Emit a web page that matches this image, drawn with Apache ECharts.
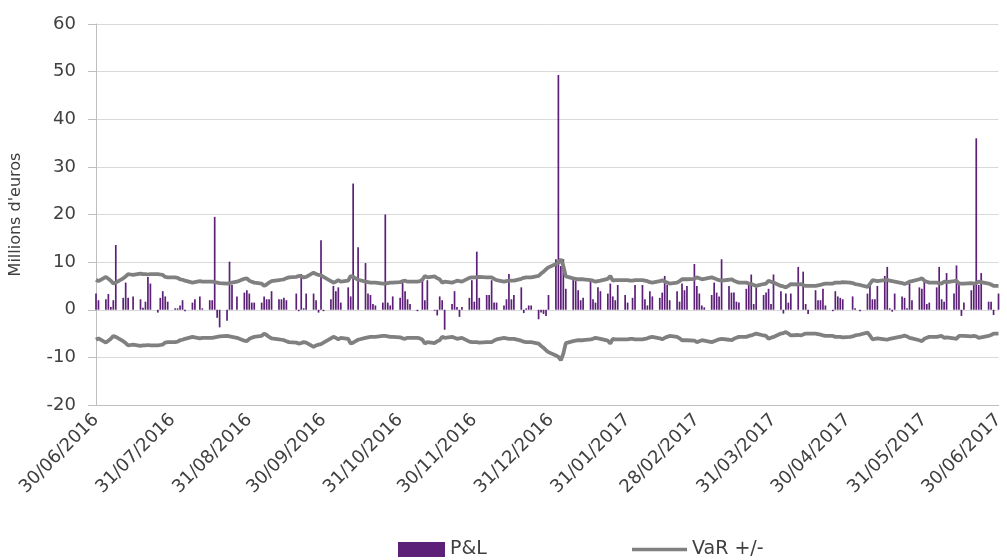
<!DOCTYPE html>
<html>
<head>
<meta charset="utf-8">
<script src="https://cdn.jsdelivr.net/npm/echarts@6/dist/echarts.min.js"></script>
<style>
  html, body { margin: 0; padding: 0; background: #fff; }
  #chart { width: 1007px; height: 560px; }
</style>
</head>
<body>
<div id="chart"></div>
<script>
// month-end labels on the x axis
const tickLabels = ['30/06/2016', '31/07/2016', '31/08/2016', '30/09/2016', '31/10/2016', '30/11/2016',
  '31/12/2016', '31/01/2017', '28/02/2017', '31/03/2017', '30/04/2017', '31/05/2017', '30/06/2017'];

// daily P&L (Mio EUR), one row per week Mon..Fri, from Thu 30/06/2016
const pnl2016 = [
  3.4, 2.0,
  2.2, 3.3, 0.6, 2.0, 13.6,
  2.5, 5.7, 2.5, null, 2.8,
  2.2, 0.4, 1.7, 6.9, 5.5,
  -0.6, 2.5, 3.9, 2.8, 1.7,
  0.3, 0.3, 0.9, 2.0, -0.3,
  1.5, 2.2, null, 2.8, 0.3,
  2.0, 2.0, 19.5, -1.7, -3.7,
  -2.3, 10.1, 5.2, null, 2.8,
  3.6, 4.1, 3.4, 1.5, 1.5,
  1.5, 2.8, 2.2, 2.2, 3.9,
  2.2, 2.2, 2.5, 2.0, null,
  3.4, -0.3, 7.5, 0.3, 3.4,
  3.4, 2.0, -0.6, 14.6, -0.3,
  2.2, 5.0, 3.9, 4.7, 1.5,
  4.7, 2.8, 26.5, null, 13.1,
  9.8, 3.4, 3.1, 1.2, 0.9,
  1.5, 20.0, 1.5, 0.9, 2.8,
  2.5, 5.7, 3.9, 2.2, 1.2,
  -0.3, null, 6.1, 2.0, 6.2,
  -0.2, -1.2, 2.8, 2.0, -4.2,
  1.2, 3.9, 0.6, -1.5, 0.6,
  2.5, 6.2, 1.7, 12.2, 2.5,
  3.1, 3.1, 6.2, 1.5, 1.5,
  0.9, 2.2, 7.5, 2.2, 3.1,
  4.7, -0.7, 0.3, 0.9, 0.9,
  -2.0, -0.6, -0.9, -1.3, 3.1
];
const pnl2017 = [
  10.6, 49.3, 9.2, 10.6, 4.4,
  6.4, 6.1, 4.1, 2.0, 2.5,
  6.1, 2.2, 1.5, 4.7, 3.9,
  3.4, 5.5, 2.8, 2.0, 5.2,
  3.1, 1.5, null, 2.5, 5.2,
  5.2, 2.2, 0.9, 3.9, 2.8,
  2.5, 3.6, 7.1, 5.2, 2.0,
  3.9, 1.7, 5.5, 4.1, 5.0,
  9.6, 5.0, 3.4, 0.9, 0.5,
  3.1, 5.7, 3.6, 2.8, 10.6,
  5.0, 3.6, 3.6, 1.7, 1.5,
  4.4, 5.2, 7.4, 1.2, 4.7,
  3.1, 3.6, 4.4, 1.2, 7.4,
  3.9, -0.8, 3.4, 1.5, 3.4,
  9.0, null, 8.0, 1.2, -0.9,
  4.1, 2.0, 2.0, 4.4, 0.9,
  -0.3, 3.9, 2.8, 2.5, 2.2,
  null, 2.8, 0.3, null, -0.3,
  3.4, 5.5, 2.2, 2.2, 5.0,
  7.1, 9.0, 0.3, -0.4, 3.4,
  2.8, 2.5, 0.3, 5.5, 2.0,
  4.7, 4.4, 6.1, 1.2, 1.5,
  4.7, 9.0, 2.2, 1.7, 7.7,
  3.4, 9.3, 5.2, -1.3, 1.5,
  4.1, 5.2, 36.0, 5.2, 7.7,
  1.7, 1.7, -1.1, null, 3.4
];

// VaR (drawn as +VaR and -VaR), same days
const var2016 = [
  6.3, 6.0,
  6.9, 6.5, 6.1, 5.5, 5.7,
  6.6, 7.0, 7.5, 7.4, 7.3,
  7.6, 7.5, 7.5, 7.4, 7.5,
  7.5, 7.4, 7.3, 6.9, 6.8,
  6.8, 6.7, 6.4, 6.3, 6.1,
  5.7, 5.8, 5.9, 6.0, 5.9,
  5.9, 5.9, 5.8, 5.7, 5.6,
  5.5, 5.6, 5.7, 5.8, 5.9,
  6.5, 6.6, 6.1, 5.9, 5.7,
  5.5, 5.0, 5.3, 5.7, 6.0,
  6.2, 6.3, 6.4, 6.6, 6.8,
  6.9, 7.1, 7.0, 6.8, 6.9,
  7.8, 7.5, 7.3, 7.2, 6.9,
  6.0, 5.7, 5.9, 6.2, 5.9,
  6.1, 7.1, 6.9, 6.6, 6.3,
  5.9, 5.8, 5.7, 5.7, 5.7,
  5.5, 5.5, 5.6, 5.7, 5.7,
  5.8, 6.0, 6.1, 5.9, 5.9,
  5.9, 6.0, 6.3, 7.1, 6.8,
  7.0, 6.6, 6.4, 5.7, 5.9,
  5.7, 5.9, 6.1, 6.0, 5.9,
  6.7, 6.8, 6.8, 6.8, 6.9,
  6.8, 6.8, 6.8, 6.5, 6.2,
  5.9, 6.0, 6.1, 6.1, 6.1,
  6.5, 6.7, 6.8, 6.8, 6.8,
  7.1, 7.6, 8.0, 8.5, 8.9
];
const var2017 = [
  9.6, 9.9, 10.6, 9.2, 7.0,
  6.6, 6.5, 6.4, 6.4, 6.4,
  6.2, 6.1, 5.9, 6.0, 6.1,
  6.5, 7.1, 6.1, 6.2, 6.2,
  6.2, 6.2, 6.1, 6.1, 6.2,
  6.2, 6.1, 6.0, 5.8, 5.7,
  6.0, 6.2, 5.9, 5.7, 5.5,
  5.7, 6.0, 6.4, 6.4, 6.4,
  6.5, 6.8, 6.6, 6.4, 6.5,
  6.8, 6.6, 6.4, 6.2, 6.1,
  6.3, 6.4, 6.1, 5.9, 5.7,
  5.7, 5.5, 5.4, 5.2, 5.0,
  5.4, 5.5, 6.1, 5.9, 5.7,
  5.0, 4.9, 4.7, 5.0, 5.4,
  5.3, 5.4, 5.2, 5.0, 5.0,
  5.0, 5.1, 5.2, 5.4, 5.5,
  5.5, 5.7, 5.7, 5.7, 5.8,
  5.7, 5.6, 5.4, 5.3, 5.2,
  4.8, 5.4, 6.2, 6.1, 6.0,
  6.2, 6.3, 6.1, 6.0, 5.9,
  5.6, 5.4, 5.6, 5.9, 6.0,
  6.4, 6.6, 6.1, 5.9, 5.7,
  5.7, 5.6, 5.5, 5.9, 5.8,
  6.0, 6.1, 5.5, 5.5, 5.5,
  5.6, 5.5, 5.6, 5.9, 5.8,
  5.5, 5.3, 5.0, 5.0, 5.0
];

function parseDate(s) {
  const p = s.split('/');
  return new Date(+p[2], +p[1] - 1, +p[0]).getTime();
}
function fmtDate(t) {
  const d = new Date(t);
  const pad = n => (n < 10 ? '0' : '') + n;
  return pad(d.getDate()) + '/' + pad(d.getMonth() + 1) + '/' + d.getFullYear();
}

// weekdays between first and last label
const tickValues = tickLabels.map(parseDate);
const days = [];
for (let t = new Date(tickValues[0]); t.getTime() <= tickValues[tickValues.length - 1]; t.setDate(t.getDate() + 1)) {
  if (t.getDay() !== 0 && t.getDay() !== 6) days.push(t.getTime());
}
const pnl = pnl2016.concat(pnl2017);
const varVals = var2016.concat(var2017);

const font = 'DejaVu Sans';
const textColor = '#404040';
const legendText = { fontFamily: font, fontSize: 19, color: textColor };

const chart = echarts.init(document.getElementById('chart'));
chart.setOption({
  animation: false,
  grid: { left: 95, right: 4, top: 24, bottom: 155 },
  legend: [
    {
      left: 393,
      top: 535,
      itemWidth: 47,
      itemHeight: 15,
      itemTextGap: 10,
      textStyle: legendText,
      data: [{ name: 'P&L', icon: 'rect' }]
    },
    {
      left: 627,
      top: 535,
      itemWidth: 55,
      itemHeight: 3.5,
      itemTextGap: 2,
      textStyle: legendText,
      data: [{ name: 'VaR +/-', icon: 'rect' }]
    }
  ],
  xAxis: {
    type: 'value',
    min: tickValues[0],
    max: tickValues[tickValues.length - 1],
    axisLine: { onZero: false, lineStyle: { color: '#bfbfbf', width: 1 } },
    axisTick: { show: false },
    splitLine: { show: false },
    axisLabel: {
      customValues: tickValues,
      rotate: 45,
      margin: 12,
      fontFamily: font,
      fontSize: 18,
      color: textColor,
      formatter: v => fmtDate(v)
    }
  },
  yAxis: {
    type: 'value',
    min: -20,
    max: 60,
    interval: 10,
    name: "Millions d'euros",
    nameLocation: 'middle',
    nameGap: 72,
    nameTextStyle: { fontFamily: font, fontSize: 16, color: textColor },
    axisLine: { show: true, lineStyle: { color: '#bfbfbf' } },
    axisTick: { show: true, length: 8, lineStyle: { color: '#bfbfbf' } },
    splitLine: { lineStyle: { color: '#d9d9d9', width: 1 } },
    axisLabel: { margin: 20, fontFamily: font, fontSize: 18, color: textColor }
  },
  series: [
    {
      name: 'P&L',
      type: 'bar',
      barWidth: 1.7,
      itemStyle: { color: '#5c2078' },
      data: days.map((d, i) => [d, pnl[i]])
    },
    {
      name: 'VaR +/-',
      type: 'line',
      showSymbol: false,
      symbol: 'none',
      color: '#808080',
      lineStyle: { color: '#808080', width: 3.8 },
      data: days.map((d, i) => [d, varVals[i]])
    },
    {
      name: 'VaR +/-',
      type: 'line',
      showSymbol: false,
      symbol: 'none',
      color: '#808080',
      lineStyle: { color: '#808080', width: 3.8 },
      data: days.map((d, i) => [d, -varVals[i]])
    }
  ]
});
</script>
</body>
</html>
